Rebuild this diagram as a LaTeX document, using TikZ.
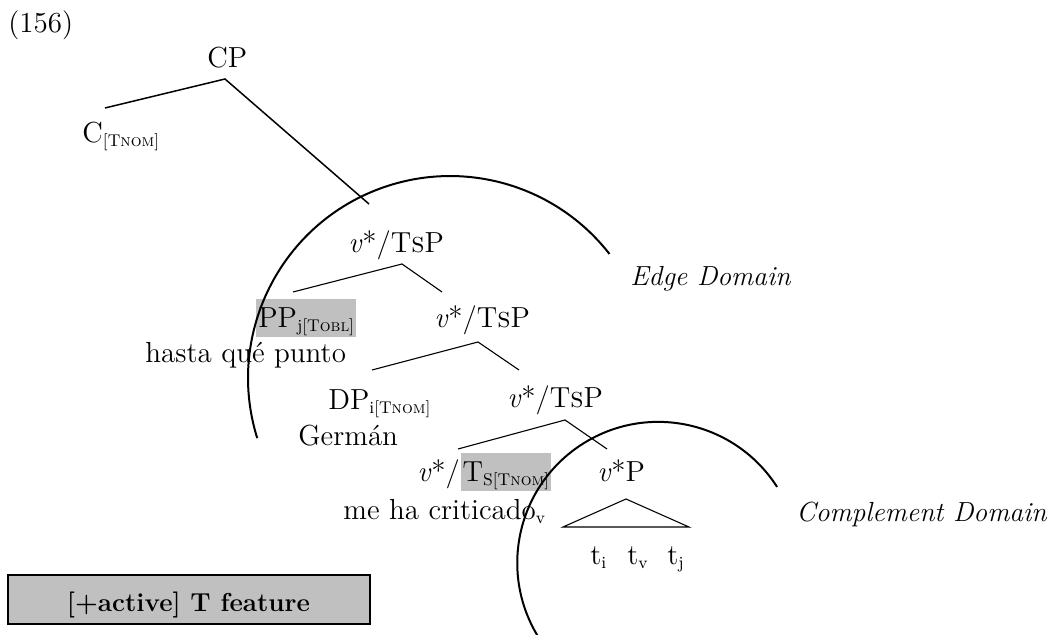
\documentclass[tikz,border=0pt]{standalone}
\definecolor{hl}{HTML}{C0C0C0}
\newcommand{\sbs}[1]{\raisebox{-2pt}{\fontsize{8.5}{9}\selectfont #1}}
\newcommand{\nom}{\textsc{nom}}
\newcommand{\vts}{\textit{v}*/T\textsc{s}P}
\tikzset{
  lbl/.style={inner sep=0pt, anchor=base west},
  hilite/.style={lbl, fill=hl, text height=14.5pt, text depth=4.5pt, inner xsep=1pt},
  dlbl/.style={lbl, font=\fontsize{13.8}{16}\selectfont\itshape},
  branch/.style={line width=0.55pt},
  domarc/.style={line width=1pt}
}
\begin{document}
\begin{tikzpicture}[x=0.5pt, y=-0.5pt, font=\fontsize{14.5}{17}\selectfont]
\useasboundingbox (0,0) rectangle (1051,635);

\node[lbl] (num) at (8,33) {(156)};
\node[lbl] (cp) at (207,68) {CP};
\node[lbl] (c) at (82,143) {C\sbs{[T\nom]}};
\node[lbl] (vt1) at (348,253) {\vts};
\node[hilite] (pp) at (256,328) {PP\sbs{j[T\textsc{obl}]}};
\node[lbl] (hasta) at (145,363) {hasta qué punto};
\node[lbl] (vt2) at (434,328) {\vts};
\node[lbl] (dp) at (328,410) {DP\sbs{i[T\nom]}};
\node[lbl] (german) at (298,446) {Germán};
\node[lbl] (vt3) at (507,408) {\vts};
\node[lbl] (v4) at (417,482) {\textit{v}*/};
\node[hilite] (ts) at (v4.base east) {T\sbs{S[T\nom]}};
\node[lbl] (verb) at (343,520) {me ha criticado\sbs{v}};
\node[lbl] (vp) at (597,482) {\textit{v}*P};
\node[lbl] (ti) at (590,565) {t\sbs{i}};
\node[lbl] (tv) at (627,565) {t\sbs{v}};
\node[lbl] (tj) at (667,565) {t\sbs{j}};
\node[dlbl] (edge) at (630,286) {Edge Domain};
\node[dlbl, anchor=base east] (compl) at (1047,522) {Complement Domain};
\node[draw, fill=hl, line width=1pt, inner sep=0pt, minimum width=181pt, minimum height=24.5pt, text height=12pt, text depth=0pt, font=\fontsize{13}{15}\selectfont\bfseries] (key) at (188.5,600) {[+active] T feature};

\coordinate (cpl) at (105,108);
\coordinate (cpa) at (225,79);
\coordinate (cpr) at (369,204);
\coordinate (t1l) at (293,292);
\coordinate (t1a) at (402,264);
\coordinate (t1r) at (442,292);
\coordinate (t2l) at (372,370);
\coordinate (t2a) at (478,342);
\coordinate (t2r) at (519,370);
\coordinate (t3l) at (458,449);
\coordinate (t3a) at (565,420);
\coordinate (t3r) at (607,449);
\coordinate (tra) at (626,499);
\coordinate (trl) at (563,527);
\coordinate (trr) at (689,527);

\draw[line width=0.75pt] (cpl) -- (cpa) -- (cpr);
\draw[branch] (t1l) -- (t1a) -- (t1r);
\draw[branch] (t2l) -- (t2a) -- (t2r);
\draw[branch] (t3l) -- (t3a) -- (t3r);
\draw[branch] (tra) -- (trl) -- (trr) -- cycle;

\draw[domarc] (257.2,438.1) arc[start angle=-197.3, end angle=-37.9, radius=202];
\draw[domarc] (538.7,637.6) arc[start angle=-212, end angle=-32.6, radius=141];
\end{tikzpicture}
\end{document}
